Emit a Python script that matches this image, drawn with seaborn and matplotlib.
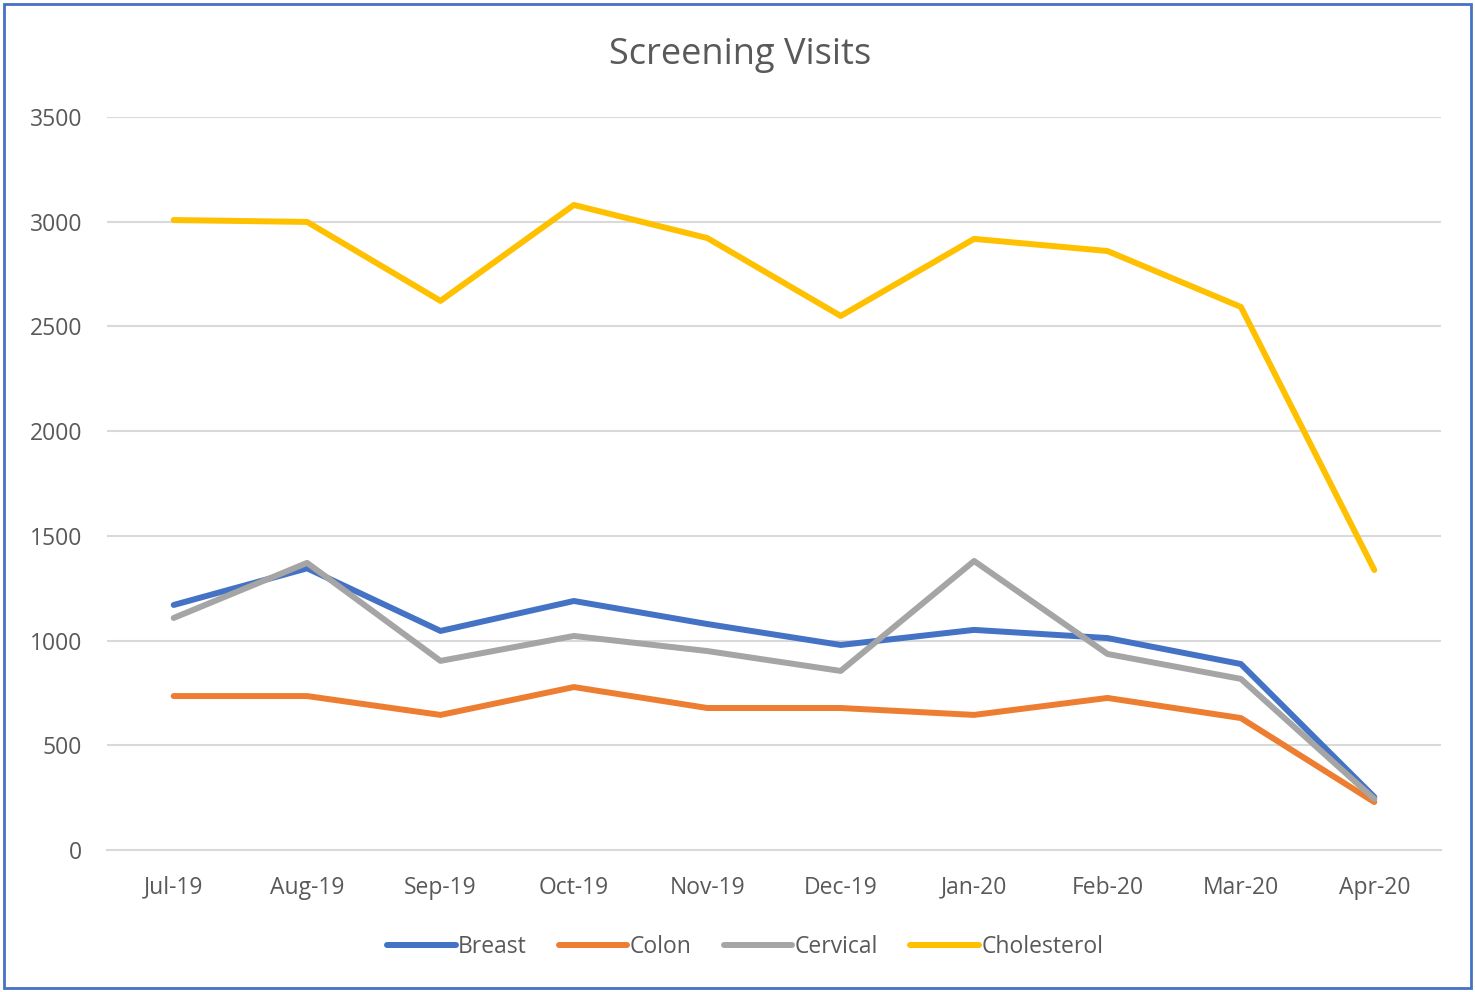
import matplotlib
matplotlib.use("Agg")
import matplotlib.pyplot as plt
import matplotlib.patches as mpatches
from matplotlib.lines import Line2D
import seaborn as sns
import pandas as pd

months = ["Jul-19", "Aug-19", "Sep-19", "Oct-19", "Nov-19", "Dec-19",
          "Jan-20", "Feb-20", "Mar-20", "Apr-20"]
breast = [1170, 1345, 1046, 1189, 1079, 979, 1051, 1012, 888, 253]
colon = [735, 735, 645, 778, 678, 678, 645, 726, 630, 229]
cervical = [1108, 1371, 903, 1022, 950, 855, 1380, 936, 817, 244]
cholesterol = [3008, 2999, 2622, 3080, 2922, 2550, 2918, 2860, 2593, 1337]
series_names = ["Breast", "Colon", "Cervical", "Cholesterol"]
colors = ["#4472C4", "#ED7D31", "#A5A5A5", "#FFC000"]

df = pd.concat([
    pd.DataFrame({"month": months, "value": vals, "series": name})
    for name, vals in zip(series_names, [breast, colon, cervical, cholesterol])
], ignore_index=True)

sns.set_theme(style="white")
plt.rcParams["font.family"] = ["Open Sans", "DejaVu Sans"]
text_color = "#595959"
fs = 16.5

fig = plt.figure(figsize=(14.75, 9.92), dpi=100)
ax = fig.add_axes([107 / 1475, (992 - 850) / 992, (1441 - 107) / 1475, (850 - 117) / 992])

sns.lineplot(data=df, x="month", y="value", hue="series", hue_order=series_names,
             palette=colors, linewidth=4.3, sort=False, ax=ax, legend=False,
             solid_capstyle="round", solid_joinstyle="round", clip_on=False)

ax.set_xlim(-0.5, 9.5)
ax.set_ylim(0, 3500)
ax.set_yticks(range(0, 3501, 500))
ax.yaxis.grid(True, color="#D9D9D9", linewidth=1.5)
ax.set_axisbelow(True)
for s in ["left", "right", "top"]:
    ax.spines[s].set_visible(False)
ax.spines["bottom"].set_color("#D9D9D9")
ax.spines["bottom"].set_linewidth(1.5)
ax.set_xlabel("")
ax.set_ylabel("")
ax.set_xticks(range(len(months)))
ax.set_xticklabels(months)
ax.set_xticks([i - 0.5 for i in range(len(months) + 1)], minor=True)
ax.tick_params(axis="x", which="major", length=0, pad=18.5, labelsize=fs, labelcolor=text_color)
ax.tick_params(axis="x", which="minor", length=8, width=1.5, color="#D9D9D9", direction="out")
ax.tick_params(axis="y", length=0, pad=18, labelsize=fs, labelcolor=text_color)

fig.text(740 / 1475, 1 - 55 / 992, "Screening Visits", ha="center", va="center",
         fontsize=26, color=text_color)

handles = [Line2D([0], [0], color=c, linewidth=4.3, solid_capstyle="round") for c in colors]
fig.legend(handles, series_names, loc="center", bbox_to_anchor=(745 / 1475, 1 - 947 / 992),
           ncol=4, frameon=False, fontsize=fs, labelcolor=text_color,
           handlelength=3.0, handletextpad=0.1, columnspacing=1.4)

border = mpatches.Rectangle((4 / 1475, 4 / 992), 1467 / 1475, 984 / 992, transform=fig.transFigure,
                            fill=False, edgecolor="#4472C4", linewidth=2)
fig.patches.append(border)

fig.savefig("out.png", dpi=100)
